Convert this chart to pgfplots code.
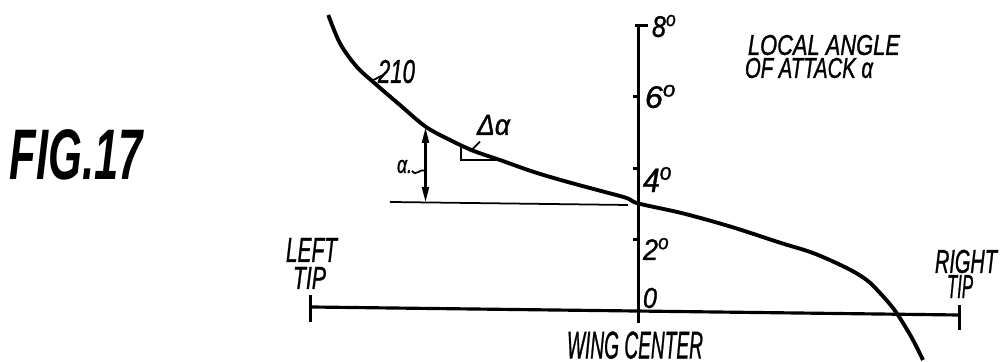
\documentclass[border=0pt]{standalone}
\usepackage{pgfplots}
\pgfplotsset{compat=1.18}
\usepackage{fontspec}
\setmainfont{Liberation Sans}[ItalicFeatures={FakeBold=1.2}]
\usetikzlibrary{arrows.meta}
\usepackage{graphicx}

% label boxed to a given size in mm (1 px of the reference = 0.1 mm)
\newcommand\lbl[3]{\resizebox{#1mm}{#2mm}{\itshape #3}}
\newcommand\dg{\textsuperscript{o}}

\begin{document}
\begin{tikzpicture}
\useasboundingbox (0,0) rectangle (10.02cm,3.62cm);
\begin{axis}[
    at={(0,0)}, anchor=south west,
    scale only axis,
    width=10.02cm, height=3.62cm,
    xmin=-1.9676, xmax=1.1202,
    ymin=-1.4106, ymax=8.7011,
    hide axis, clip=false,
  ]
  % curve 210: local angle of attack along the span
  \addplot[black, line width=1.1pt, smooth, tension=0.55, mark=none] coordinates {
    (-0.9559,8.282) (-0.9199,7.492) (-0.8684,6.838) (-0.8068,6.327)
    (-0.7350,5.768) (-0.6558,5.162) (-0.5809,4.791) (-0.5100,4.492)
    (-0.4268,4.232) (-0.3251,3.905) (-0.2213,3.626) (-0.1186,3.374)
    (-0.0364,3.170) (0,3.017) (0.1362,2.743) (0.2844,2.369)
    (0.4361,1.922) (0.5378,1.634) (0.6416,1.215) (0.7032,0.880)
    (0.7442,0.517) (0.7843,0.098) (0.8151,-0.321) (0.8459,-0.796)
    (0.8767,-1.355)
  };
  % span axis, left tip to right tip
  \addplot[black, line width=0.9pt, mark=none] coordinates {(-1.012,0.126) (0.988,-0.098)};
  % angle axis at the wing center
  \addplot[black, line width=0.9pt, mark=none] coordinates {(0,-0.321) (0,8)};
  % reference level at the center
  \addplot[black, line width=0.5pt, mark=none] coordinates {(-0.7658,3.059) (-0.0324,2.975)};

  \draw[line width=0.9pt] (axis cs:-1.012,0.461) -- (axis cs:-1.012,-0.293);
  \draw[line width=0.9pt] (axis cs:0.988,0.182) -- (axis cs:0.988,-0.517);
  \draw[line width=0.8pt] (axis cs:-0.0108,8) -- (axis cs:0.0293,8);
  \draw[line width=0.8pt] (axis cs:-0.017,6) -- (axis cs:0,6);
  \draw[line width=0.8pt] (axis cs:-0.017,4) -- (axis cs:0,4);
  \draw[line width=0.8pt] (axis cs:-0.017,2) -- (axis cs:0,2);

  % alpha arrow
  \draw[line width=0.6pt, {Triangle[length=1.5mm,width=0.7mm]}-{Triangle[length=1.5mm,width=0.7mm]}]
    (axis cs:-0.6564,5.13) -- (axis cs:-0.6564,3.06);
  \draw[line width=0.5pt] (axis cs:-0.698,3.93) .. controls (axis cs:-0.686,3.75) and (axis cs:-0.672,4.02) .. (axis cs:-0.6564,3.93);
  % slope triangle
  \draw[line width=0.6pt] (axis cs:-0.547,4.603) -- (axis cs:-0.547,4.232) -- (axis cs:-0.4391,4.232);
  \draw[line width=0.5pt] (axis cs:-0.4884,4.743) -- (axis cs:-0.5193,4.464);
  % 210 leader
  \draw[line width=0.5pt] (axis cs:-0.8274,6.48) to[out=-20,in=200] (axis cs:-0.7904,6.592);

  \node[inner sep=0] at (axis cs:-1.7319,4.371) {\resizebox{13.3mm}{5.0mm}{\bfseries\itshape FIG.17}};
  \node[inner sep=0] at (axis cs:-0.7458,6.704) {\lbl{3.7}{2.3}{210}};
  \node[inner sep=0] at (axis cs:-0.4468,5.209) {\lbl{3.3}{2.0}{Δα}};
  \node[inner sep=0] at (axis cs:-0.7211,4.050) {\lbl{1.5}{1.3}{α.}};
  \node[inner sep=0] at (axis cs:0.0801,7.975) {\lbl{2.5}{2.2}{8\dg}};
  \node[inner sep=0] at (axis cs:0.0693,6.006) {\lbl{3.2}{2.3}{6\dg}};
  \node[inner sep=0] at (axis cs:0.0601,3.687) {\lbl{3.0}{2.5}{4\dg}};
  \node[inner sep=0] at (axis cs:0.0555,1.746) {\lbl{2.7}{2.2}{2\dg}};
  \node[inner sep=0] at (axis cs:0.0354,0.377) {\lbl{1.4}{2.0}{0}};
  \node[inner sep=0] at (axis cs:-0.0108,-0.94) {\lbl{13.6}{2.7}{WING CENTER}};
  \node[inner sep=0] at (axis cs:-1.0077,1.718) {\lbl{5.1}{2.4}{LEFT}};
  \node[inner sep=0] at (axis cs:-1.0139,0.936) {\lbl{3.3}{2.2}{TIP}};
  \node[inner sep=0] at (axis cs:1.0092,1.397) {\lbl{6.2}{2.3}{RIGHT}};
  \node[inner sep=0] at (axis cs:0.9908,0.698) {\lbl{2.6}{2.3}{TIP}};
  \node[inner sep=0] at (axis cs:0.5716,7.444) {\lbl{15.2}{2.0}{LOCAL ANGLE}};
  \node[inner sep=0] at (axis cs:0.5254,6.802) {\lbl{12.8}{2.0}{OF ATTACK α}};
\end{axis}
\end{tikzpicture}
\end{document}
